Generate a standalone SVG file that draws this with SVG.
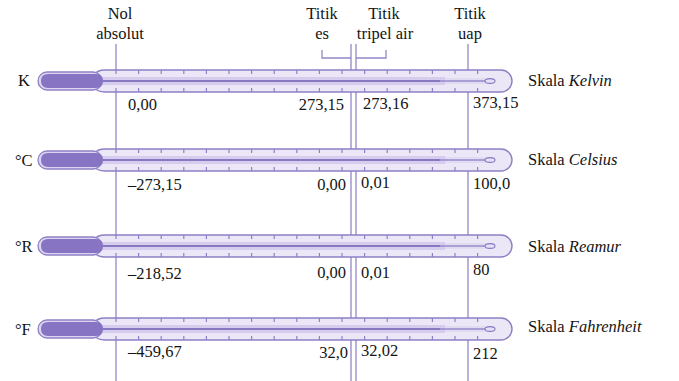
<svg xmlns="http://www.w3.org/2000/svg" xmlns:xlink="http://www.w3.org/1999/xlink" width="679" height="381" viewBox="0 0 679 381">
<style>
.t{font-family:"Liberation Serif","Times New Roman",serif;font-size:16.5px;fill:#141414}
.i{font-style:italic}
.ln{stroke:#9486c8;stroke-width:1.3;fill:none}
.stem{fill:#ebe7f6;stroke:#8f80c6;stroke-width:1.4}
.bulb{fill:#dcd5f0;stroke:#8f80c6;stroke-width:1.3}
.merc{fill:#8774c3}
.band{fill:#d6cdee}
.cap{fill:#8878c2}
.tick{stroke:#8f80c6;stroke-width:1.2;fill:none}
</style>
<defs>
<g id="thermo">
<path class="stem" d="M105,-11 H501 A11,11 0 0 1 501,11 H105 Q97,11 94,6 V-6 Q97,-11 105,-11 Z"/>
<rect class="band" x="100" y="-4" width="345" height="8"/>
<rect x="445" y="-3" width="40" height="6" fill="#e1dbf2"/>
<rect class="cap" x="100" y="-1" width="340" height="2"/>
<rect class="cap" x="440" y="-0.6" width="46" height="1.2"/>
<ellipse cx="490" cy="0" rx="5" ry="2.4" fill="#e6e1f5" stroke="#8878c2" stroke-width="1.1"/>
<path class="tick" d="M116,-11v4M116,7v4M138.6,-11v4M138.6,7v4M161.2,-11v4M161.2,7v4M183.8,-11v4M183.8,7v4M206.4,-11v4M206.4,7v4M229,-11v4M229,7v4M251.6,-11v4M251.6,7v4M274.2,-11v4M274.2,7v4M296.8,-11v4M296.8,7v4M319.4,-11v4M319.4,7v4M342,-11v4M342,7v4M364.6,-11v4M364.6,7v4M387.2,-11v4M387.2,7v4M409.8,-11v4M409.8,7v4M432.4,-11v4M432.4,7v4M455,-11v4M455,7v4M477.6,-11v4M477.6,7v4"/>
<rect class="bulb" x="38" y="-9" width="64" height="18" rx="9"/>
<path class="merc" d="M48,-7 H96 Q103,-7 103,0 Q103,7 96,7 H48 Q41,7 41,0 Q41,-7 48,-7 Z"/>
</g>
</defs>

<g id="connectors">
<line class="ln" x1="116" y1="44" x2="116" y2="381"/>
<line class="ln" x1="351" y1="44" x2="351" y2="381"/>
<line class="ln" x1="356" y1="44" x2="356" y2="381"/>
<line class="ln" x1="468" y1="44" x2="468" y2="381"/>
<path class="ln" d="M322,50 V58 H351"/>
<path class="ln" d="M386,50 V58 H356"/>
</g>

<g id="labels-top">
<text class="t" x="120" y="19" text-anchor="middle">Nol</text>
<text class="t" x="120" y="39" text-anchor="middle">absolut</text>
<text class="t" x="322" y="19" text-anchor="middle">Titik</text>
<text class="t" x="322" y="39" text-anchor="middle">es</text>
<text class="t" x="384" y="19" text-anchor="middle">Titik</text>
<text class="t" x="385" y="39" text-anchor="middle">tripel air</text>
<text class="t" x="470" y="19" text-anchor="middle">Titik</text>
<text class="t" x="470" y="39" text-anchor="middle">uap</text>
</g>

<g id="kelvin">
<use xlink:href="#thermo" transform="translate(0,81)"/>
<text class="t" x="18" y="86">K</text>
<text class="t" x="528" y="86">Skala <tspan class="i">Kelvin</tspan></text>
<text class="t" x="128" y="110">0,00</text>
<text class="t" x="344" y="110" text-anchor="end">273,15</text>
<text class="t" x="363" y="109">273,16</text>
<text class="t" x="473" y="108">373,15</text>
</g>

<g id="celsius">
<use xlink:href="#thermo" transform="translate(0,160)"/>
<text class="t" x="15" y="166">°C</text>
<text class="t" x="528" y="165">Skala <tspan class="i">Celsius</tspan></text>
<text class="t" x="128" y="190">–273,15</text>
<text class="t" x="346" y="190" text-anchor="end">0,00</text>
<text class="t" x="361" y="188">0,01</text>
<text class="t" x="473" y="189">100,0</text>
</g>

<g id="reamur">
<use xlink:href="#thermo" transform="translate(0,246)"/>
<text class="t" x="15" y="252">°R</text>
<text class="t" x="528" y="252">Skala <tspan class="i">Reamur</tspan></text>
<text class="t" x="128" y="279">–218,52</text>
<text class="t" x="346" y="278" text-anchor="end">0,00</text>
<text class="t" x="361" y="278">0,01</text>
<text class="t" x="473" y="275">80</text>
</g>

<g id="fahrenheit">
<use xlink:href="#thermo" transform="translate(0,329)"/>
<text class="t" x="15" y="335">°F</text>
<text class="t" x="528" y="332">Skala <tspan class="i">Fahrenheit</tspan></text>
<text class="t" x="128" y="357">–459,67</text>
<text class="t" x="348" y="358" text-anchor="end">32,0</text>
<text class="t" x="361" y="356">32,02</text>
<text class="t" x="473" y="359">212</text>
</g>
</svg>
